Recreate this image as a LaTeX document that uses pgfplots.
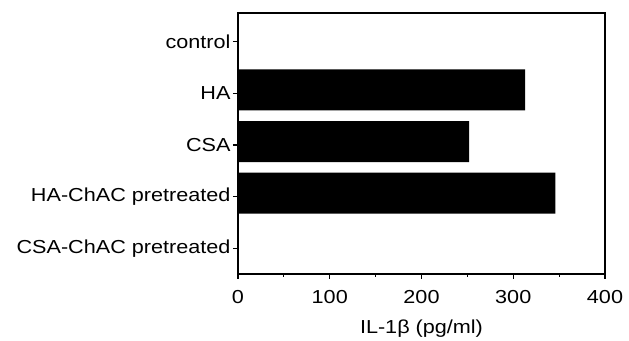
\documentclass[border=0pt]{standalone}
\usepackage{fontspec}
\setmainfont{Liberation Sans}[FakeStretch=1.15]
\usepackage{pgfplots}
\pgfplotsset{compat=1.18}
\begin{document}
\begin{tikzpicture}
\begin{axis}[
  name=ax, scale only axis, width=367pt, height=261pt,
  xbar, bar width=41pt, bar shift=3.5pt,
  xmin=0, xmax=400, ymin=-0.5, ymax=4.56,
  xtick={0,100,200,300,400}, minor x tick num=1,
  ytick={0,1,2,3,4},
  yticklabels={CSA-ChAC pretreated, HA-ChAC pretreated, CSA, HA, control},
  tick align=outside, major tick length=5pt, minor tick length=3pt,
  xtick pos=bottom, ytick pos=left,
  axis line style={line width=1.3pt},
  every tick/.style={line width=1.2pt, black},
  font=\fontsize{18.8}{22}\selectfont,
  /pgf/number format/assume math mode=true,
  xticklabel style={yshift=-8pt},
  yticklabel style={xshift=1pt},
  xlabel={IL-1β (pg/ml)},
  xlabel style={yshift=-9pt},
]
\addplot[fill=black, draw=none] coordinates {(0,4) (313,3) (252,2) (346,1) (0,0)};
\end{axis}
\path (ax.south west) ++(-238pt,-63pt) rectangle ++(629pt,337pt);
\end{tikzpicture}
\end{document}
